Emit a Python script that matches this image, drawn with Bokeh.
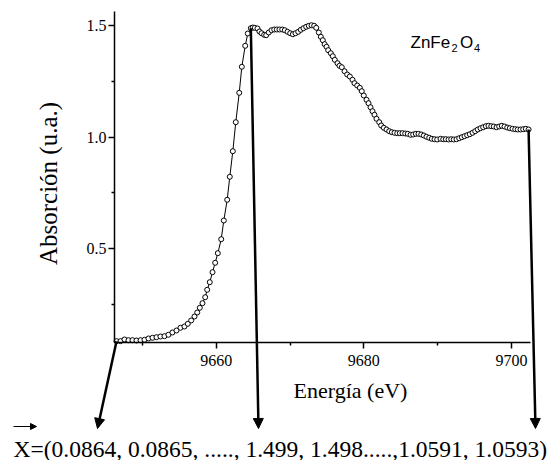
from bokeh.plotting import figure
from bokeh.models import Range1d, FixedTicker, PrintfTickFormatter, Label, Arrow, NormalHead
from bokeh.embed import file_html
from bokeh.resources import INLINE
import math

# ---------------- data ----------------
energy = [
    9646.50, 9647.04, 9647.58, 9648.12, 9648.66, 9649.20, 9649.75, 9650.29, 9650.83, 9651.37,
    9651.91, 9652.45, 9652.99, 9653.53, 9654.07, 9654.62, 9655.16, 9655.70, 9656.15, 9656.61,
    9657.06, 9657.43, 9657.78, 9658.14, 9658.51, 9658.78, 9659.13, 9659.50, 9659.86, 9660.22,
    9660.68, 9661.03, 9661.49, 9661.84, 9662.25, 9662.65, 9663.12, 9663.47, 9663.93, 9664.28,
    9664.69, 9664.96, 9665.23, 9665.59, 9665.86, 9666.14, 9666.50, 9666.77, 9667.12, 9667.49,
    9667.86, 9668.21, 9668.57, 9668.94, 9669.29, 9669.66, 9670.02, 9670.38, 9670.74, 9671.11,
    9671.46, 9671.82, 9672.19, 9672.54, 9672.91, 9673.27, 9673.55, 9673.90, 9674.17, 9674.44,
    9674.69, 9674.94, 9675.17, 9675.52, 9675.79, 9676.06, 9676.43, 9676.70, 9677.01, 9677.38,
    9677.74, 9678.10, 9678.46, 9678.73, 9679.10, 9679.45, 9679.72, 9679.99, 9680.36, 9680.63,
    9680.90, 9681.17, 9681.44, 9681.71, 9682.08, 9682.35, 9682.70, 9683.07, 9683.43, 9683.79,
    9684.15, 9684.52, 9684.87, 9685.23, 9685.60, 9685.95, 9686.32, 9686.68, 9687.04, 9687.40,
    9687.77, 9688.12, 9688.48, 9688.85, 9689.20, 9689.57, 9689.93, 9690.38, 9690.75, 9691.10,
    9691.47, 9691.83, 9692.18, 9692.55, 9692.91, 9693.27, 9693.63, 9693.99, 9694.35, 9694.72,
    9695.08, 9695.43, 9695.80, 9696.16, 9696.52, 9696.88, 9697.25, 9697.60, 9697.97, 9698.33,
    9698.68, 9699.05, 9699.42, 9699.77, 9700.13, 9700.50, 9700.85, 9701.22, 9701.58, 9701.94,
    9702.31,
]

absorption = [
    0.0864, 0.0865, 0.0939, 0.0908, 0.0908, 0.0894, 0.0908, 0.0926, 0.0984, 0.1015,
    0.1042, 0.1073, 0.1087, 0.1150, 0.1253, 0.1342, 0.1463, 0.1521, 0.1642, 0.1790,
    0.1969, 0.2148, 0.2359, 0.2565, 0.2833, 0.3165, 0.3505, 0.3953, 0.4374, 0.4804,
    0.5430, 0.6268, 0.7195, 0.8225, 0.9371, 1.0670, 1.1986, 1.3151, 1.4091, 1.4642,
    1.4879, 1.4910, 1.4897, 1.4866, 1.4731, 1.4655, 1.4584, 1.4566, 1.4687, 1.4790,
    1.4821, 1.4821, 1.4821, 1.4821, 1.4790, 1.4718, 1.4655, 1.4610, 1.4655, 1.4718,
    1.4807, 1.4879, 1.4942, 1.4987, 1.5013, 1.4987, 1.4897, 1.4687, 1.4494, 1.4342,
    1.4163, 1.4046, 1.3894, 1.3760, 1.3625, 1.3464, 1.3312, 1.3195, 1.3133, 1.2954,
    1.2806, 1.2716, 1.2568, 1.2416, 1.2313, 1.2210, 1.2058, 1.1865, 1.1673, 1.1521,
    1.1341, 1.1162, 1.1001, 1.0822, 1.0670, 1.0522, 1.0419, 1.0343, 1.0267, 1.0222,
    1.0195, 1.0177, 1.0177, 1.0177, 1.0164, 1.0150, 1.0105, 1.0119, 1.0150, 1.0150,
    1.0119, 1.0074, 1.0016, 0.9971, 0.9926, 0.9908, 0.9895, 0.9926, 0.9908, 0.9908,
    0.9895, 0.9908, 0.9895, 0.9908, 0.9953, 0.9998, 1.0043, 1.0088, 1.0132, 1.0195,
    1.0267, 1.0343, 1.0401, 1.0446, 1.0491, 1.0509, 1.0491, 1.0477, 1.0446, 1.0477,
    1.0509, 1.0477, 1.0432, 1.0401, 1.0374, 1.0356, 1.0343, 1.0343, 1.0356, 1.0374,
    1.0343,
]

x_ticks = [9660, 9680, 9700]
x_minor_ticks = [9650, 9670, 9690]
y_ticks = [0.5, 1.0, 1.5]
y_minor_ticks = [0.25, 0.75, 1.25]

x_label = "Energía (eV)"
y_label = "Absorción (u.a.)"
compound = [("ZnFe", False), ("2", True), ("O", False), ("4", True)]
vector_text = "X=(0.0864, 0.0865, ....., 1.499, 1.498.....,1.0591, 1.0593)"
arrow_points = [0, 40, len(energy) - 1]   # first point, edge top, last point

# ---------------- layout ----------------
W, H = 549, 460
AX_X = (9646.225, 9702.57)      # extent of the x axis (data)
AX_Y = (0.0804, 1.5627)         # extent of the y axis (data)
PX_L, PX_R, PX_T, PX_B = 114, 530, 11, 342   # where the axes sit on the canvas
FIX = 7                          # text baseline correction (px)

SX = (PX_R - PX_L) / (AX_X[1] - AX_X[0])
SY = (PX_B - PX_T) / (AX_Y[1] - AX_Y[0])
X0, X1 = AX_X[0] - PX_L / SX, AX_X[1] + (W - PX_R) / SX
Y0, Y1 = AX_Y[0] - (H - PX_B) / SY, AX_Y[1] + PX_T / SY


def ex(px):
    return X0 + px / SX


def ey(py):
    return Y1 - py / SY


SERIF = "Liberation Serif"
SANS = "Liberation Sans"

p = figure(width=W, height=H, title=None,
           x_range=Range1d(X0, X1), y_range=Range1d(Y0, Y1),
           output_backend="svg", toolbar_location=None, min_border=0)
p.outline_line_color = None
p.xgrid.visible = False
p.ygrid.visible = False
p.background_fill_color = "white"
p.border_fill_color = "white"

xa = p.xaxis[0]
ya = p.yaxis[0]
xa.fixed_location = AX_Y[0]
xa.bounds = AX_X
ya.fixed_location = AX_X[0]
ya.bounds = AX_Y

for ax in (xa, ya):
    ax.axis_line_color = "black"
    ax.axis_line_width = 1.5
    ax.major_tick_line_color = "black"
    ax.major_tick_line_width = 1.5
    ax.minor_tick_line_color = "black"
    ax.minor_tick_line_width = 1.5
    ax.major_tick_in = 0
    ax.major_tick_out = 6
    ax.minor_tick_in = 0
    ax.minor_tick_out = 3
    ax.major_label_text_font = SERIF
    ax.major_label_text_font_size = "16px"
    ax.major_label_text_color = "black"

xa.ticker = FixedTicker(ticks=x_ticks, minor_ticks=x_minor_ticks)
ya.ticker = FixedTicker(ticks=y_ticks, minor_ticks=y_minor_ticks)
xa.formatter = PrintfTickFormatter(format="%d")
ya.formatter = PrintfTickFormatter(format="%.1f")
xa.major_label_standoff = 6
ya.major_label_standoff = 2

# ---------------- data glyphs ----------------
p.line(energy, absorption, line_color="black", line_width=1)
p.scatter(energy, absorption, marker="circle", size=5, fill_color="white",
          line_color="black", line_width=1)

# ---------------- labels ----------------
p.add_layout(Label(x=ex(350), y=ey(397 - FIX), text=x_label, text_font=SERIF,
                   text_font_size="22px", text_align="center",
                   text_baseline="alphabetic", text_color="black"))
p.add_layout(Label(x=ex(55 - FIX), y=ey(183), text=y_label, text_font=SERIF,
                   text_font_size="25px", text_align="center",
                   text_baseline="alphabetic", angle=math.pi / 2, text_color="black"))

# compound label ZnFe2O4 (subscripts as smaller, lowered texts)
for (txt, sub), px in zip(compound, [410, 451, 459.5, 473.5]):
    p.add_layout(Label(x=ex(px), y=ey((54.5 if sub else 49) - FIX), text=txt,
                       text_font=SANS, text_font_size="11px" if sub else "17px",
                       text_align="left", text_baseline="alphabetic", text_color="black"))

# vector text at bottom
p.add_layout(Label(x=ex(13), y=ey(455 - FIX), text=vector_text, text_font=SERIF,
                   text_font_size="23.5px", text_align="left",
                   text_baseline="alphabetic", text_color="black"))
p.add_layout(Arrow(x_start=ex(13), y_start=ey(426), x_end=ex(36), y_end=ey(426),
                   line_width=1.2, line_color="black",
                   end=NormalHead(size=6, fill_color="black", line_color="black")))

# arrows from selected data points down to the vector text
for idx, tip_px in zip(arrow_points, [97, 258, 535]):
    p.add_layout(Arrow(x_start=energy[idx], y_start=absorption[idx],
                       x_end=ex(tip_px), y_end=ey(428),
                       line_width=2.5, line_color="black",
                       end=NormalHead(size=10, fill_color="black", line_color="black",
                                      line_width=1)))

open("out.html", "w").write(file_html(p, INLINE))
